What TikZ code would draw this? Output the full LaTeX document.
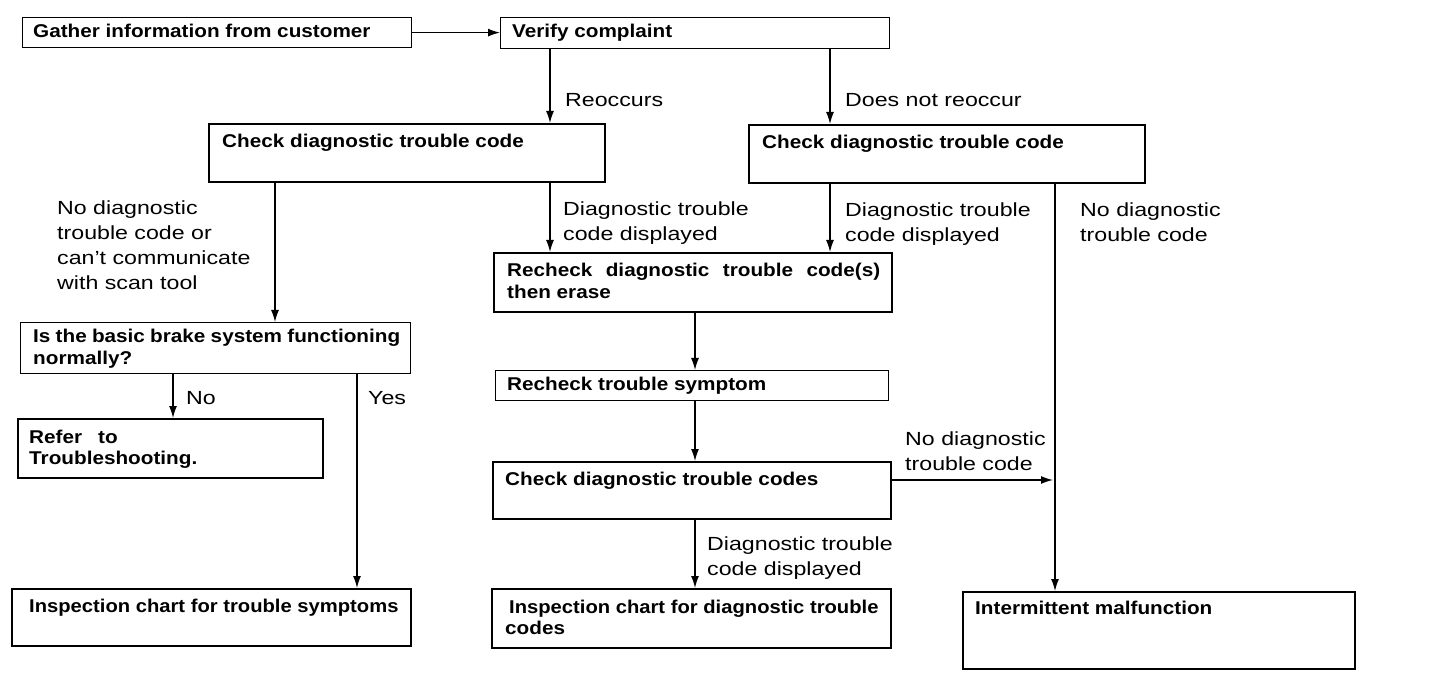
\documentclass[tikz,border=0pt]{standalone}
\usepackage{fontspec}
\setmainfont{Liberation Sans}
\newfontfamily\lblfont{Liberation Sans}[FakeStretch=1.22]
\newfontfamily\boxfontfam{Liberation Sans Bold}[FakeStretch=1.12]
\usetikzlibrary{arrows.meta}
\tikzset{
  thinbox/.style={draw, line width=1.2pt, inner sep=0pt, anchor=north west},
  thickbox/.style={draw, line width=2.4pt, inner sep=0pt, anchor=north west},
  btxt/.style={anchor=base west, inner sep=0pt, font=\boxfontfam\fontsize{18.5}{22}\selectfont},
  ltxt/.style={anchor=base west, inner sep=0pt, font=\lblfont\fontsize{19}{24}\selectfont},
  arr/.style={line width=1.3pt, -{Latex[length=12pt,width=8pt]}},
  plainline/.style={line width=1.3pt}
}
\begin{document}
\begin{tikzpicture}[x=1pt,y=-1pt]
\useasboundingbox (0,0) rectangle (1456,684);
% boxes
\node (g)  [thinbox,  minimum width=389pt, minimum height=30pt] at (22,17) {};
\node (v)  [thinbox,  minimum width=389pt, minimum height=31pt] at (500,17) {};
\node (c1) [thickbox, minimum width=396pt, minimum height=58pt] at (208,123) {};
\node (c2) [thickbox, minimum width=396pt, minimum height=58pt] at (748,124) {};
\node (r1) [thickbox, minimum width=398pt, minimum height=59pt] at (493,252) {};
\node (q)  [thinbox,  minimum width=390pt, minimum height=51pt] at (20,322) {};
\node (rf) [thickbox, minimum width=305pt, minimum height=59pt] at (17,418) {};
\node (rs) [thinbox,  minimum width=393pt, minimum height=30pt] at (495,370) {};
\node (c3) [thickbox, minimum width=398pt, minimum height=57pt] at (492,461) {};
\node (i1) [thickbox, minimum width=399pt, minimum height=57pt] at (11,588) {};
\node (i2) [thickbox, minimum width=399pt, minimum height=59pt] at (491,588) {};
\node (im) [thickbox, minimum width=392pt, minimum height=77pt] at (962,591) {};
% box texts
\node (tg)   [btxt] at (33,38) {Gather information from customer};
\node (tv)   [btxt] at (512,38) {Verify complaint};
\node (tc1)  [btxt] at (222,148) {Check diagnostic trouble code};
\node (tc2)  [btxt] at (762,149) {Check diagnostic trouble code};
\node (tr1a) [btxt] at (507,277) {\makebox[373pt][s]{Recheck diagnostic trouble code(s)}};
\node (tr1b) [btxt] at (507,299) {then erase};
\node (tqa)  [btxt] at (33,343) {\makebox[367pt][s]{Is the basic brake system functioning}};
\node (tqb)  [btxt] at (33,364) {normally?};
\node (trfa) [btxt] at (29,443) {Refer\hspace{16pt}to};
\node (trfb) [btxt] at (29,464) {Troubleshooting.};
\node (trs)  [btxt] at (507,390) {Recheck trouble symptom};
\node (tc3)  [btxt] at (505,485) {Check diagnostic trouble codes};
\node (ti1)  [btxt] at (29,612) {\scalebox{0.975}[1]{Inspection chart for trouble symptoms}};
\node (ti2a) [btxt] at (509,613) {\scalebox{0.975}[1]{Inspection chart for diagnostic trouble}};
\node (ti2b) [btxt] at (505,634) {codes};
\node (tim)  [btxt] at (975,614) {Intermittent malfunction};
% labels
\node (l1)  [ltxt] at (565,107) {Reoccurs};
\node (l2)  [ltxt] at (845,107) {Does not reoccur};
\node (l3a) [ltxt] at (57,215) {No diagnostic};
\node (l3b) [ltxt] at (57,240) {trouble code or};
\node (l3c) [ltxt] at (57,265) {can’t communicate};
\node (l3d) [ltxt] at (57,290) {with scan tool};
\node (l4a) [ltxt] at (563,216) {Diagnostic trouble};
\node (l4b) [ltxt] at (563,241) {code displayed};
\node (l5a) [ltxt] at (845,217) {Diagnostic trouble};
\node (l5b) [ltxt] at (845,242) {code displayed};
\node (l6a) [ltxt] at (1080,217) {No diagnostic};
\node (l6b) [ltxt] at (1080,242) {trouble code};
\node (l7)  [ltxt] at (186,404) {No};
\node (l8)  [ltxt] at (368,404) {Yes};
\node (l9a) [ltxt] at (905,445) {No diagnostic};
\node (l9b) [ltxt] at (905,470) {trouble code};
\node (l10a)[ltxt] at (707,550) {Diagnostic trouble};
\node (l10b)[ltxt] at (707,575) {code displayed};
% x positions of vertical connectors
\coordinate (xa) at (550,0);
\coordinate (xb) at (830,0);
\coordinate (xc) at (275,0);
\coordinate (xd) at (1055,0);
\coordinate (xe) at (695,0);
\coordinate (xf) at (173,0);
\coordinate (xg) at (357,0);
\coordinate (j)  at (1053,480);
% connectors
\draw[arr] (g.east) -- (g.east -| v.west);
\draw[arr] (v.south -| xa) -- (c1.north -| xa);
\draw[arr] (v.south -| xb) -- (c2.north -| xb);
\draw[arr] (c1.south -| xa) -- (r1.north -| xa);
\draw[arr] (c2.south -| xb) -- (r1.north -| xb);
\draw[arr] (c1.south -| xc) -- (q.north -| xc);
\draw[arr] (c2.south -| xd) -- (im.north -| xd);
\draw[arr] (r1.south -| xe) -- (rs.north -| xe);
\draw[arr] (rs.south -| xe) -- (c3.north -| xe);
\draw[arr] (c3.south -| xe) -- (i2.north -| xe);
\draw[arr] (c3.east |- j) -- (j);
\draw[arr] (q.south -| xf) -- (rf.north -| xf);
\draw[arr] (q.south -| xg) -- (i1.north -| xg);
\end{tikzpicture}
\end{document}
